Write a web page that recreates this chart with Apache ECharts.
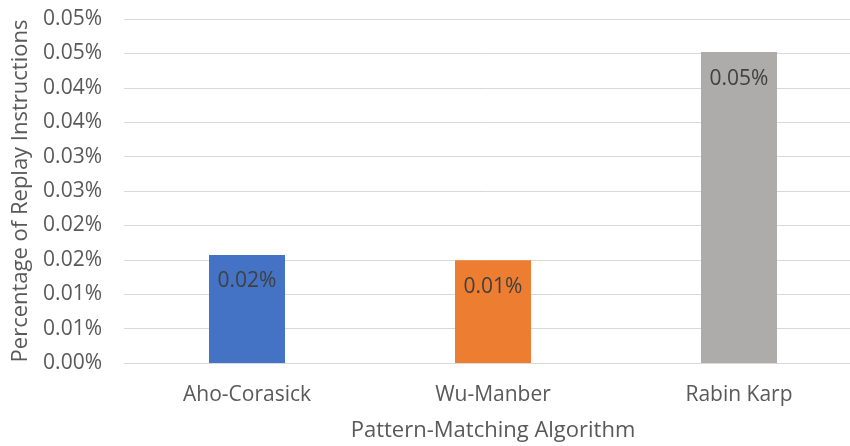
<!DOCTYPE html>
<html>
<head>
<meta charset="utf-8">
<script src="https://cdn.jsdelivr.net/npm/echarts@6/dist/echarts.min.js"></script>
<style>
  html, body { margin: 0; padding: 0; background: #ffffff; }
  #chart { width: 850px; height: 446px; }
</style>
</head>
<body>
<div id="chart"></div>
<script>
// Share of replay instructions (in percent) per pattern-matching algorithm
const categories = ['Aho-Corasick', 'Wu-Manber', 'Rabin Karp'];
const replayPercent = [0.0157, 0.01495, 0.0452];
const barColors = ['#4472C4', '#ED7D31', '#AEABAB'];

// Y axis: 0 to 0.05 in steps of 0.005, labelled with two decimals
const yMin = 0;
const yMax = 0.05;
const yStep = 0.005;
const yTickLabels = ['0.00%', '0.01%', '0.01%', '0.02%', '0.02%', '0.03%',
                     '0.03%', '0.04%', '0.04%', '0.05%', '0.05%'];

const FONT = '"Open Sans", "Liberation Sans", sans-serif';
const LABEL_SIZE = 21;
const TITLE_SIZE = 22;

const chart = echarts.init(document.getElementById('chart'), null, { renderer: 'canvas' });

chart.setOption({
  animation: false,
  backgroundColor: '#ffffff',
  // the plot area runs past the right edge of the canvas
  grid: { left: 124, top: 19, width: 738, height: 344, outerBoundsMode: 'none', containLabel: false },
  xAxis: {
    type: 'category',
    data: categories,
    name: 'Pattern-Matching Algorithm',
    nameLocation: 'middle',
    nameGap: 57,
    nameTextStyle: { color: '#595959', fontFamily: FONT, fontSize: TITLE_SIZE },
    axisLine: { show: true, lineStyle: { color: '#D9D9D9', width: 1 } },
    axisTick: { show: false },
    axisLabel: { color: '#595959', fontFamily: FONT, fontSize: LABEL_SIZE, margin: 22 }
  },
  yAxis: {
    type: 'value',
    min: yMin,
    max: yMax,
    interval: yStep,
    name: 'Percentage of Replay Instructions',
    nameLocation: 'middle',
    nameGap: 92,
    nameTextStyle: { color: '#595959', fontFamily: FONT, fontSize: TITLE_SIZE },
    axisLine: { show: false },
    axisTick: { show: false },
    splitLine: { lineStyle: { color: '#D9D9D9', width: 1 } },
    axisLabel: {
      color: '#595959',
      fontFamily: FONT,
      fontSize: LABEL_SIZE,
      margin: 22,
      formatter: function (v) {
        return yTickLabels[Math.round((v - yMin) / yStep)];
      }
    }
  },
  series: [{
    type: 'bar',
    barWidth: 76,
    data: replayPercent.map(function (v, i) {
      return { value: v, itemStyle: { color: barColors[i] } };
    }),
    label: {
      show: true,
      position: 'insideTop',
      distance: 16,
      color: '#404040',
      fontFamily: FONT,
      fontSize: LABEL_SIZE,
      formatter: function (p) { return p.value.toFixed(2) + '%'; }
    }
  }]
});
</script>
</body>
</html>
